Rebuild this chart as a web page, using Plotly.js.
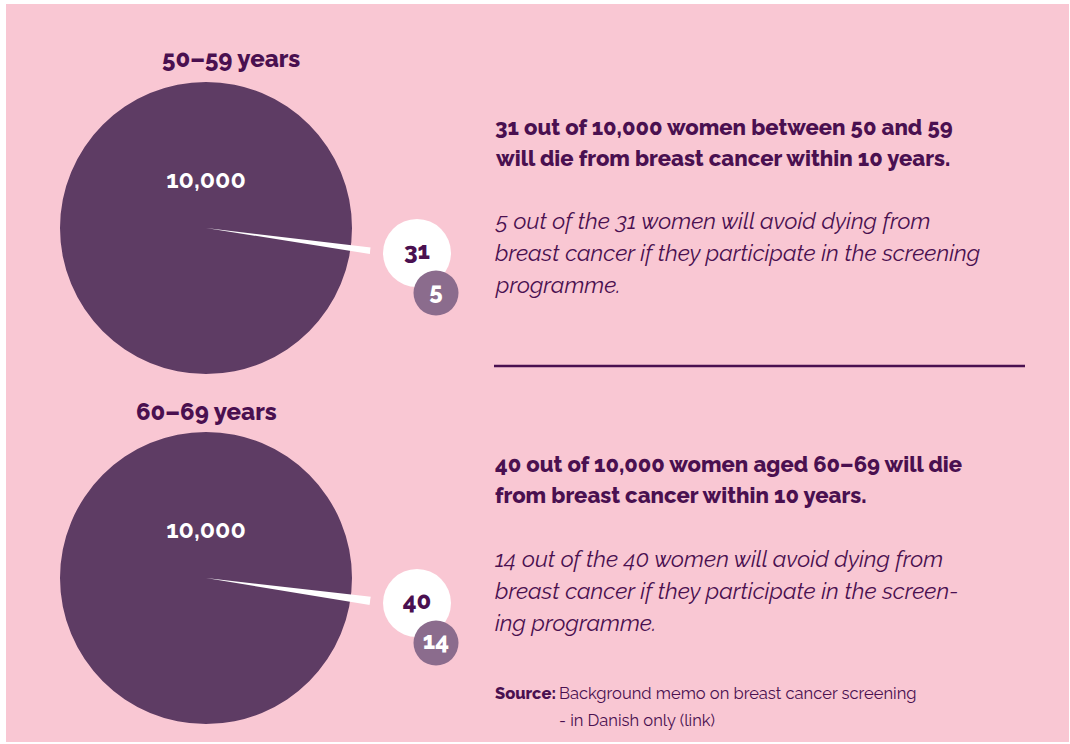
<!DOCTYPE html>
<html>
<head>
<meta charset="utf-8">
<script src="https://cdn.plot.ly/plotly-3.0.1.min.js"></script>
<style>
  html, body { margin: 0; padding: 0; background: #ffffff; }
  #chart { width: 1070px; height: 744px; }
</style>
</head>
<body>
<div id="chart"></div>
<script>
// ---- data ----
const groups = ['50–59 years', '60–69 years'];
const population = [10000, 10000];
const deaths = [31, 40];
const avoided = [5, 14];
const populationLabels = ['10,000', '10,000'];
const headlines = [
  ['31 out of 10,000 women between 50 and 59', 'will die from breast cancer within 10 years.'],
  ['40 out of 10,000 women aged 60–69 will die', 'from breast cancer within 10 years.']
];
const details = [
  ['5 out of the 31 women will avoid dying from', 'breast cancer if they participate in the screening', 'programme.'],
  ['14 out of the 40 women will avoid dying from', 'breast cancer if they participate in the screen-', 'ing programme.']
];
const sourceLabel = 'Source:';
const sourceLines = ['Background memo on breast cancer screening', '- in Danish only (link)'];

// ---- styling / layout ----
const W = 1070, H = 744;
const PINK = '#f9c7d3', PIE = '#5e3c64', DARK = '#4a1050', BADGE = '#8b6c8d';
const FONT = 'Raleway, Lato, sans-serif';
const px = x => x / W;
const py = y => Math.min(1, Math.max(0, 1 - y / H));

const pieCX = 206, pieCY = [228, 578];
const R_PX = 146;          // radius of the disk in px
const RMAX = 1.137;        // radial range (wedge reaches this)
const DOM = R_PX * RMAX;   // half size of polar domain in px
const wedgeAngle = -7.9;   // direction of the highlighted wedge (deg)
const wedgeScale = 2;      // visual exaggeration of the wedge
const badgeMain = {dx: 211, dy: 25, size: 68};
const badgeSub  = {dx: 230, dy: 65, size: 45};
const titleX = [231, 206], titleY = [58, 412];
const headY = [[127, 158], [464, 495]];
const detY = [[221, 253, 285], [559, 591, 623]];
const textX = 493;

const traces = [];
const layout = {
  width: W, height: H,
  margin: {l: 0, r: 0, t: 0, b: 0},
  paper_bgcolor: '#ffffff',
  plot_bgcolor: 'rgba(0,0,0,0)',
  showlegend: false,
  font: {family: FONT, color: DARK},
  xaxis: {visible: false, range: [0, W], domain: [0, 1], fixedrange: true},
  yaxis: {visible: false, range: [H, 0], domain: [0, 1], fixedrange: true},
  shapes: [
    {type: 'rect', xref: 'paper', yref: 'paper', x0: px(6), x1: px(1069), y0: py(742), y1: py(4),
     fillcolor: PINK, line: {width: 0}, layer: 'below'},
    {type: 'line', xref: 'paper', yref: 'paper', x0: px(494), x1: px(1025), y0: py(366), y1: py(366),
     line: {color: DARK, width: 2.5}}
  ],
  annotations: []
};

groups.forEach((g, i) => {
  const sub = i === 0 ? 'polar' : 'polar' + (i + 1);
  layout[sub] = {
    domain: {x: [px(pieCX - DOM), px(pieCX + DOM)], y: [py(pieCY[i] + DOM), py(pieCY[i] - DOM)]},
    bgcolor: 'rgba(0,0,0,0)',
    radialaxis: {visible: false, range: [0, RMAX]},
    angularaxis: {visible: false}
  };
  // full disk
  traces.push({type: 'barpolar', subplot: sub, r: [1], theta: [0], width: [360],
    marker: {color: PIE, line: {width: 0}}, hoverinfo: 'skip'});
  // highlighted wedge
  traces.push({type: 'barpolar', subplot: sub, r: [RMAX], theta: [wedgeAngle],
    width: [deaths[i] / population[i] * 360 * wedgeScale],
    marker: {color: '#ffffff', line: {width: 0}}, hoverinfo: 'skip'});
  // population label
  traces.push({type: 'scatterpolar', subplot: sub, mode: 'text', r: [46 / R_PX], theta: [90],
    text: [populationLabels[i]], textfont: {family: FONT, size: 25, color: '#ffffff', weight: 'bold'},
    hoverinfo: 'skip', cliponaxis: false});
  // badges (pixel-space overlay)
  traces.push({type: 'scatter', xaxis: 'x', yaxis: 'y', mode: 'markers+text',
    x: [pieCX + badgeMain.dx], y: [pieCY[i] + badgeMain.dy],
    marker: {size: badgeMain.size, color: '#ffffff', line: {width: 0}},
    text: [String(deaths[i])], textposition: 'middle center',
    textfont: {family: FONT, size: 24, color: DARK, weight: 800}, cliponaxis: false, hoverinfo: 'skip'});
  traces.push({type: 'scatter', xaxis: 'x', yaxis: 'y', mode: 'markers+text',
    x: [pieCX + badgeSub.dx], y: [pieCY[i] + badgeSub.dy],
    marker: {size: badgeSub.size, color: BADGE, line: {width: 0}},
    text: [String(avoided[i])], textposition: 'middle center',
    textfont: {family: FONT, size: 24, color: '#ffffff', weight: 800}, cliponaxis: false, hoverinfo: 'skip'});

  // title
  layout.annotations.push({xref: 'paper', yref: 'paper', x: px(titleX[i]), y: py(titleY[i]),
    xanchor: 'center', yanchor: 'middle', showarrow: false, text: g,
    font: {family: FONT, size: 24, color: DARK, weight: 800}});
  headlines[i].forEach((t, j) => layout.annotations.push({xref: 'paper', yref: 'paper',
    x: px(textX), y: py(headY[i][j]), xanchor: 'left', yanchor: 'middle', showarrow: false,
    text: t, font: {family: FONT, size: 22, color: DARK, weight: 800}}));
  details[i].forEach((t, j) => layout.annotations.push({xref: 'paper', yref: 'paper',
    x: px(textX), y: py(detY[i][j]), xanchor: 'left', yanchor: 'middle', showarrow: false,
    text: '<i>' + t + '</i>', font: {family: FONT, size: 22.7, color: DARK}}));
});

layout.annotations.push({xref: 'paper', yref: 'paper', x: px(textX), y: py(693), xanchor: 'left',
  yanchor: 'middle', showarrow: false, text: sourceLabel,
  font: {family: FONT, size: 16.5, color: DARK, weight: 800}});
layout.annotations.push({xref: 'paper', yref: 'paper', x: px(557), y: py(693), xanchor: 'left',
  yanchor: 'middle', showarrow: false, text: sourceLines[0], font: {family: FONT, size: 16.5, color: DARK}});
layout.annotations.push({xref: 'paper', yref: 'paper', x: px(557), y: py(720), xanchor: 'left',
  yanchor: 'middle', showarrow: false, text: sourceLines[1], font: {family: FONT, size: 16.5, color: DARK}});

Plotly.newPlot('chart', traces, layout, {staticPlot: true, displayModeBar: false});
</script>
</body>
</html>
